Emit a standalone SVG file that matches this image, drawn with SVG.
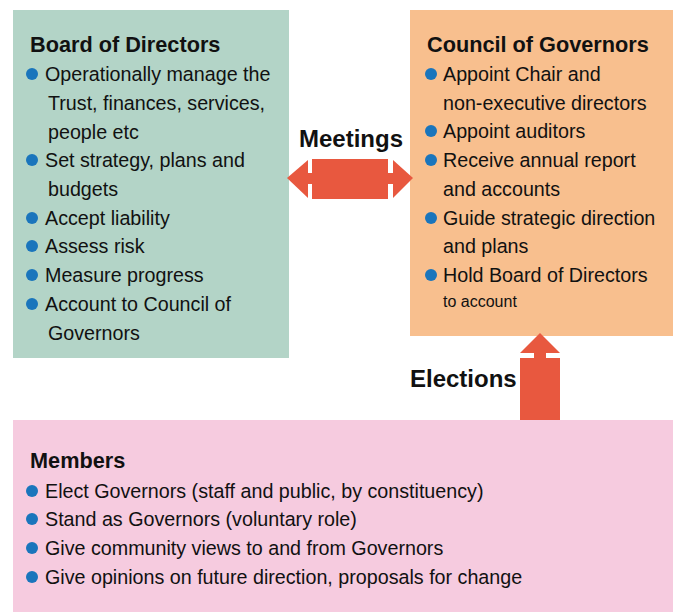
<svg xmlns="http://www.w3.org/2000/svg" width="673" height="612" viewBox="0 0 673 612">
<style>
.t{font-family:"Liberation Sans",Arial,sans-serif;font-size:19.7px;fill:#111}
.h{font-family:"Liberation Sans",Arial,sans-serif;font-size:21.7px;font-weight:bold;fill:#111}
.l{font-family:"Liberation Sans",Arial,sans-serif;font-size:24px;font-weight:bold;fill:#111}
.s{font-size:16px}
.b{fill:#1a75bc}
.ar{fill:#e8583f}
</style>
<rect width="673" height="612" fill="#fff"/>
<g id="board">
<rect x="13" y="10" width="276" height="348" fill="#b3d4c7"/>
<text class="h" x="30" y="52">Board of Directors</text>
<circle class="b" cx="32" cy="74" r="6"/><text class="t" x="45" y="81">Operationally manage the</text>
<text class="t" x="48" y="110">Trust, finances, services,</text>
<text class="t" x="48" y="139">people etc</text>
<circle class="b" cx="32" cy="160" r="6"/><text class="t" x="45" y="167">Set strategy, plans and</text>
<text class="t" x="48" y="196">budgets</text>
<circle class="b" cx="32" cy="218" r="6"/><text class="t" x="45" y="225">Accept liability</text>
<circle class="b" cx="32" cy="246" r="6"/><text class="t" x="45" y="253">Assess risk</text>
<circle class="b" cx="32" cy="275" r="6"/><text class="t" x="45" y="282">Measure progress</text>
<circle class="b" cx="32" cy="304" r="6"/><text class="t" x="45" y="311">Account to Council of</text>
<text class="t" x="48" y="340">Governors</text>
</g>
<g id="council">
<rect x="410" y="10" width="263" height="326" fill="#f8bf8e"/>
<text class="h" x="427" y="52">Council of Governors</text>
<circle class="b" cx="431" cy="74" r="6"/><text class="t" x="443" y="81">Appoint Chair and</text>
<text class="t" x="443" y="110">non-executive directors</text>
<circle class="b" cx="431" cy="131" r="6"/><text class="t" x="443" y="138">Appoint auditors</text>
<circle class="b" cx="431" cy="160" r="6"/><text class="t" x="443" y="167">Receive annual report</text>
<text class="t" x="443" y="196">and accounts</text>
<circle class="b" cx="431" cy="218" r="6"/><text class="t" x="443" y="225">Guide strategic direction</text>
<text class="t" x="443" y="253">and plans</text>
<circle class="b" cx="431" cy="275" r="6"/><text class="t" x="443" y="282">Hold Board of Directors</text>
<text class="t s" x="443" y="307">to account</text>
</g>
<g id="members">
<rect x="13" y="420" width="660" height="192" fill="#f6cbdf"/>
<text class="h" x="30" y="468">Members</text>
<circle class="b" cx="32" cy="491" r="6"/><text class="t" x="45" y="498">Elect Governors (staff and public, by constituency)</text>
<circle class="b" cx="32" cy="519" r="6"/><text class="t" x="45" y="526">Stand as Governors (voluntary role)</text>
<circle class="b" cx="32" cy="548" r="6"/><text class="t" x="45" y="555">Give community views to and from Governors</text>
<circle class="b" cx="32" cy="577" r="6"/><text class="t" x="45" y="584">Give opinions on future direction, proposals for change</text>
</g>
<g id="connectors">
<g id="meetings">
<polygon class="ar" points="287,178 308,160 308,198"/>
<rect class="ar" x="307" y="173" width="88" height="11"/>
<rect class="ar" x="312" y="159" width="76" height="40"/>
<polygon class="ar" points="413,178 393,160 393,198"/>
<text class="l" x="351" y="147" text-anchor="middle">Meetings</text>
</g>
<g id="elections">
<polygon class="ar" points="540,333 520,353 560,353"/>
<rect class="ar" x="534" y="352" width="12" height="8"/>
<rect class="ar" x="520" y="358" width="40" height="62"/>
<text class="l" x="410" y="387">Elections</text>
</g>
</g>
</svg>
